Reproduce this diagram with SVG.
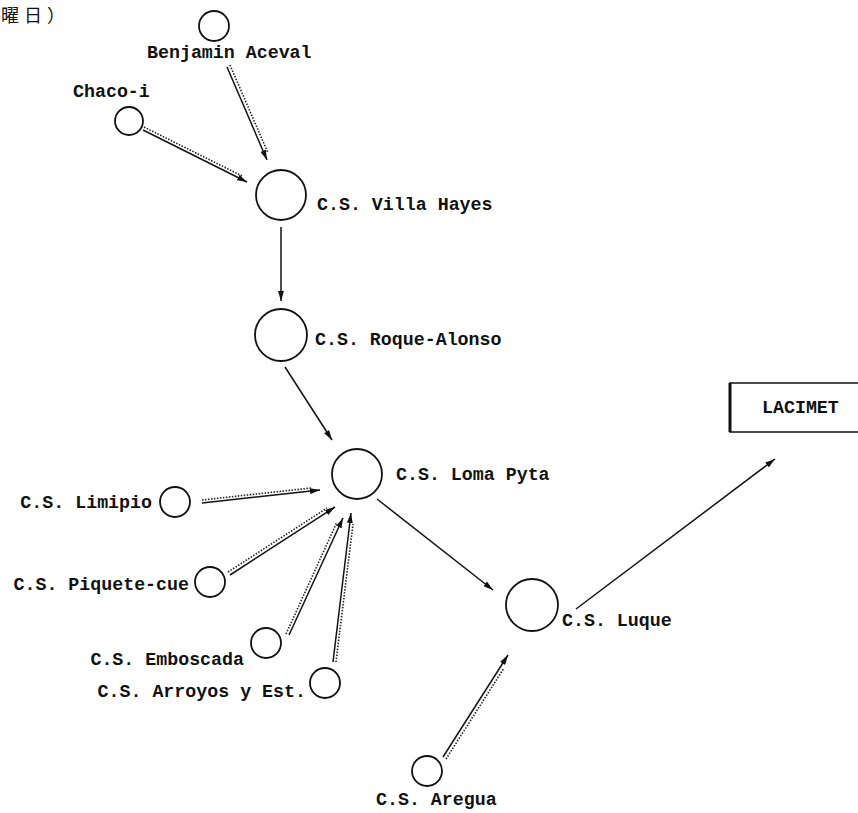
<svg xmlns="http://www.w3.org/2000/svg" width="858" height="813" viewBox="0 0 858 813">
<style>
text{font-family:"Liberation Mono","DejaVu Sans Mono",monospace;font-size:18.3px;font-weight:bold;fill:#111}
.cjk{font-family:"Noto Sans CJK JP","Noto Sans CJK SC",sans-serif;font-size:18px;font-weight:normal;letter-spacing:5px}
circle{fill:none;stroke:#111;stroke-width:1.8}
.s{stroke:#111;stroke-width:1.5;fill:none}
.d{stroke:#222;stroke-width:1.6;stroke-dasharray:1.5 1.5;fill:none}
</style>
<defs>
<marker id="ah" viewBox="0 0 10 6" refX="10" refY="3" markerWidth="10" markerHeight="6" markerUnits="userSpaceOnUse" orient="auto">
<path d="M0,0 L10,3 L0,6 z" fill="#111"/>
</marker>
</defs>
<rect width="858" height="813" fill="#fff"/>
<text class="cjk" x="1" y="22">曜日）</text>
<g id="benjamin"><circle cx="214" cy="26" r="15"/><text x="147" y="58">Benjamin Aceval</text></g>
<g id="chaco"><circle cx="129" cy="121" r="14"/><text x="73" y="97">Chaco-i</text></g>
<g id="villahayes"><circle cx="281" cy="195" r="25"/><text x="317" y="210">C.S. Villa Hayes</text></g>
<g id="roque"><circle cx="281" cy="335" r="26"/><text x="315" y="345">C.S. Roque-Alonso</text></g>
<g id="loma"><circle cx="357" cy="474" r="25"/><text x="396" y="480">C.S. Loma Pyta</text></g>
<g id="luque"><circle cx="532" cy="605" r="26"/><text x="562" y="626">C.S. Luque</text></g>
<g id="lacimet"><path d="M858,383 L730,383 L730,432 L858,432" fill="none" stroke="#111" stroke-width="1.6"/><line x1="730" y1="383" x2="730" y2="432" stroke="#111" stroke-width="3"/><text x="762" y="413">LACIMET</text></g>
<g id="limipio"><circle cx="175" cy="502" r="15"/><text x="152" y="508" text-anchor="end">C.S. Limipio</text></g>
<g id="piquete"><circle cx="210" cy="582" r="15"/><text x="189" y="590" text-anchor="end">C.S. Piquete-cue</text></g>
<g id="emboscada"><circle cx="266" cy="643" r="15"/><text x="244" y="665" text-anchor="end">C.S. Emboscada</text></g>
<g id="arroyos"><circle cx="325" cy="683" r="15"/><text x="306" y="697" text-anchor="end">C.S. Arroyos y Est.</text></g>
<g id="aregua"><circle cx="427" cy="771" r="15"/><text x="376" y="805">C.S. Aregua</text></g>
<g id="connectors">
<line class="s" x1="227" y1="67" x2="267" y2="160" marker-end="url(#ah)"/>
<line class="d" x1="230" y1="65" x2="268" y2="153"/>
<line class="s" x1="143" y1="130" x2="247" y2="182" marker-end="url(#ah)"/>
<line class="d" x1="144" y1="127" x2="242" y2="176"/>
<line class="s" x1="281" y1="227" x2="281" y2="301" marker-end="url(#ah)"/>
<line class="s" x1="285" y1="367" x2="332" y2="440" marker-end="url(#ah)"/>
<line class="s" x1="202" y1="503" x2="320" y2="490" marker-end="url(#ah)"/>
<line class="d" x1="202" y1="500" x2="311" y2="488"/>
<line class="s" x1="230" y1="575" x2="335" y2="507" marker-end="url(#ah)"/>
<line class="d" x1="228" y1="572" x2="327" y2="508"/>
<line class="s" x1="289" y1="635" x2="343" y2="518" marker-end="url(#ah)"/>
<line class="d" x1="286" y1="634" x2="337" y2="522"/>
<line class="s" x1="333" y1="662" x2="351" y2="513" marker-end="url(#ah)"/>
<line class="d" x1="336" y1="662" x2="353" y2="524"/>
<line class="s" x1="377" y1="499" x2="493" y2="590" marker-end="url(#ah)"/>
<line class="s" x1="576" y1="609" x2="775" y2="459" marker-end="url(#ah)"/>
<line class="s" x1="443" y1="757" x2="508" y2="655" marker-end="url(#ah)"/>
<line class="d" x1="446" y1="759" x2="504" y2="668"/>
</g>
</svg>
